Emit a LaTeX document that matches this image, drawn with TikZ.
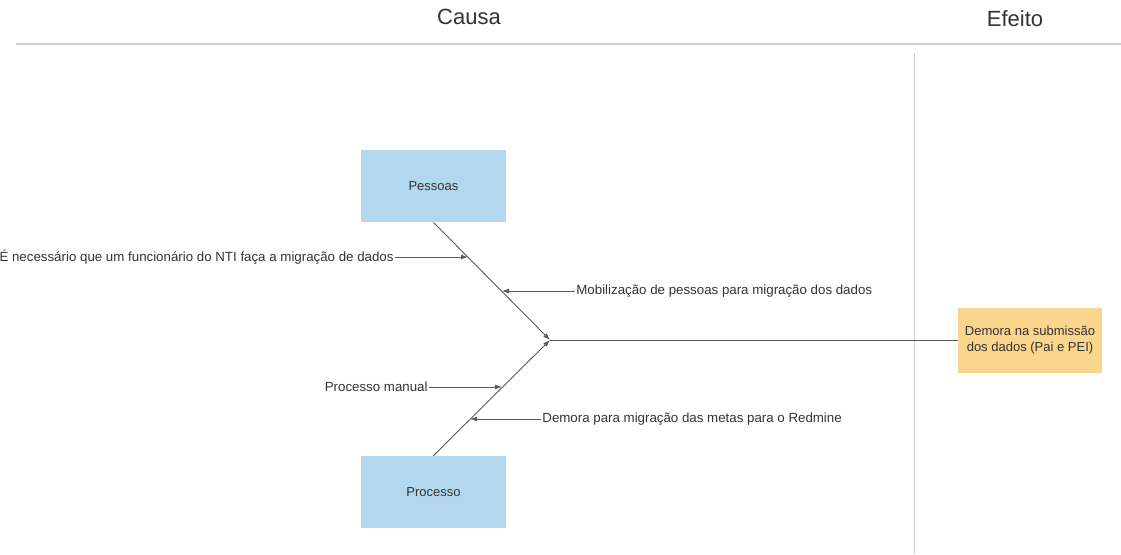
\documentclass[tikz,border=0pt]{standalone}
\usepackage{fontspec}
\setmainfont{Liberation Sans}
\usetikzlibrary{arrows.meta}
\definecolor{bonegray}{HTML}{5A5A5A}
\definecolor{boxblue}{HTML}{B3D7EE}
\definecolor{boxorange}{HTML}{FAD58C}
\definecolor{rulegray}{HTML}{CDCDCD}
\definecolor{textgray}{HTML}{333333}

\begin{document}
\begin{tikzpicture}[x=1pt, y=-1pt, thick,
		cat/.style={fill=boxblue, minimum width=145pt, minimum height=72pt, font=\fontsize{13}{15}\selectfont, text=textgray},
		eff/.style={fill=boxorange, minimum width=144pt, minimum height=65pt, align=center, font=\fontsize{13}{16}\selectfont, text=textgray},
		lbl/.style={font=\fontsize{13.3}{15}\selectfont, text=textgray, inner sep=1pt},
		ttl/.style={font=\fontsize{22}{26}\selectfont, text=textgray},
		bone/.style={draw=bonegray, line width=0.9pt},
		>={Latex[length=7pt,width=5pt]}]
		\useasboundingbox (0,0) rectangle (1121,554);

		\node[ttl] (causa) at (469,17) {Causa};
		\node[ttl] (efeito) at (1015,19) {Efeito};
		\draw[rulegray, line width=1.5pt] (16,44) -- (1121,44);
		\draw[rulegray, line width=1pt] (914,53) -- (914,554);

		\node[cat] (pessoas) at (433.5,186) {Pessoas};
		\node[cat] (processo) at (433.5,492) {Processo};
		\node[eff] (demora) at (1030,340) {Demora na submissão\\dos dados (Pai e PEI)};

		\coordinate (j) at (550,340);
		\coordinate (b1) at (468,257);
		\coordinate (b2) at (502,291);
		\coordinate (b3) at (502,387);
		\coordinate (b4) at (470,419);

		\draw[bone,->] (pessoas.south) -- (j);
		\draw[bone,->] (processo.north) -- (j);
		\draw[bone] (demora.west) -- (j);

		\node[lbl, anchor=east] (c1) at (395,257) {É necessário que um funcionário do NTI faça a migração de dados};
		\node[lbl, anchor=west] (c2) at (575,291) {Mobilização de pessoas para migração dos dados};
		\node[lbl, anchor=east] (c3) at (429,387) {Processo manual};
		\node[lbl, anchor=west] (c4) at (541,419) {Demora para migração das metas para o Redmine};

		\draw[bone,->] (c1) -- (b1);
		\draw[bone,->] (c2) -- (b2);
		\draw[bone,->] (c3) -- (b3);
		\draw[bone,->] (c4) -- (b4);

	\end{tikzpicture}
\end{document}
